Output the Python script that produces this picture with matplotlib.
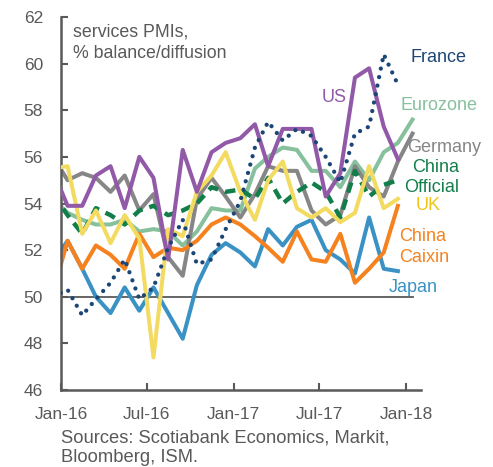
import pandas as pd
import matplotlib
matplotlib.use("Agg")
from matplotlib import pyplot as plt
import matplotlib.dates as mdates

plt.rcParams['font.family'] = ['Liberation Sans', 'DejaVu Sans']

# monthly services PMIs, Dec-15 .. Dec-17 (Eurozone/Germany to Jan-18)
months = pd.date_range("2015-12-01", periods=26, freq="MS") + pd.Timedelta(days=14)

us = [55.4, 53.9, 53.9, 55.2, 55.6, 53.8, 56.0, 55.1, 51.6, 56.3, 54.5, 56.2, 56.6,
      56.8, 57.4, 55.6, 57.2, 57.2, 57.2, 54.3, 55.3, 59.4, 59.8, 57.3, 55.9]
france = [50.0, 50.3, 49.2, 49.9, 50.6, 51.6, 49.9, 50.4, 52.1, 53.3, 51.4, 51.6, 52.9,
          54.1, 56.4, 57.5, 56.7, 57.2, 56.9, 56.0, 54.9, 57.0, 57.3, 60.4, 59.1]
eurozone = [54.2, 53.6, 53.3, 53.1, 53.1, 53.3, 52.8, 52.9, 52.8, 52.2, 52.8, 53.8, 53.7,
            53.7, 55.5, 56.0, 56.4, 56.3, 55.4, 55.4, 54.7, 55.8, 55.0, 56.2, 56.6, 57.6]
germany = [56.0, 55.0, 55.3, 55.1, 54.5, 55.2, 53.7, 54.4, 51.7, 50.9, 54.2, 55.1, 54.3,
           53.4, 54.4, 55.6, 55.4, 55.4, 53.7, 53.1, 53.5, 55.6, 54.7, 54.3, 55.8, 57.0]
china_official = [54.4, 53.5, 52.7, 53.8, 53.5, 53.1, 53.7, 53.9, 53.5, 53.7, 54.0, 54.7, 54.5,
                  54.6, 54.2, 55.1, 54.0, 54.5, 54.9, 54.5, 53.4, 55.4, 54.3, 54.8, 55.0]
uk = [55.5, 55.6, 52.7, 53.7, 52.3, 53.5, 52.5, 47.4, 52.9, 52.6, 54.5, 55.2, 56.2,
      54.5, 53.3, 55.0, 55.8, 53.8, 53.4, 53.8, 53.2, 53.6, 55.6, 53.8, 54.2]
china_caixin = [50.2, 52.4, 51.2, 52.2, 51.8, 51.2, 52.7, 51.7, 52.1, 52.0, 52.4, 53.1, 53.4,
                53.1, 52.6, 52.1, 51.5, 52.8, 51.6, 51.5, 52.7, 50.6, 51.2, 51.9, 53.9]
japan = [51.5, 52.4, 51.2, 50.0, 49.3, 50.4, 49.4, 50.4, 49.3, 48.2, 50.5, 51.8, 52.3,
         51.9, 51.3, 52.9, 52.2, 53.0, 53.3, 52.0, 51.6, 51.0, 53.4, 51.2, 51.1]
threshold = [50] * 26

tick_dates = ["2016-01-01", "2016-07-01", "2017-01-01", "2017-07-01", "2018-01-01"]
y_ticks = [46, 48, 50, 52, 54, 56, 58, 60, 62]

grey = "#595959"
c_us = "#9159a8"
c_fr = "#1c4675"
c_ez = "#86c09c"
c_de = "#868686"
c_cn = "#127f4b"
c_uk = "#f2db60"
c_cx = "#f5821f"
c_jp = "#3a92c4"

fig = plt.figure(figsize=(4.93, 4.67), dpi=100)
ax = fig.add_axes([61 / 493, 77 / 467, 360 / 493, 373 / 467])

lw = 2.9
d = months[:25]
ax.plot(months, threshold, color=grey, lw=1.3, zorder=1)
ax.plot(months, eurozone, color=c_ez, lw=lw, zorder=2)
ax.plot(months, germany, color=c_de, lw=lw, zorder=2)
ax.plot(d, japan, color=c_jp, lw=lw, zorder=2)
ax.plot(d, china_caixin, color=c_cx, lw=lw, zorder=2)
ax.plot(d, china_official, color=c_cn, lw=3.2, ls=(0, (2.4, 1.6)), zorder=3)
ax.plot(d, uk, color=c_uk, lw=lw, zorder=3)
ax.plot(d, us, color=c_us, lw=lw, zorder=3)
ax.plot(d, france, color=c_fr, lw=3.1, ls=(0, (0.01, 2.0)), dash_capstyle="round",
        solid_capstyle="round", zorder=4)

ax.set_xlim(pd.Timestamp("2016-01-01"), pd.Timestamp("2018-02-02"))
ax.set_ylim(46, 62)
ax.set_yticks(y_ticks)
ax.set_xticks(pd.to_datetime(tick_dates))
ax.xaxis.set_major_formatter(mdates.DateFormatter("%b-%y"))

for s in ["top", "right"]:
    ax.spines[s].set_visible(False)
for s in ["left", "bottom"]:
    ax.spines[s].set_color(grey)
    ax.spines[s].set_linewidth(1.8)
ax.tick_params(direction="in", length=5, width=1.5, color=grey, labelcolor=grey,
               labelsize=12.5)
ax.tick_params(axis="x", pad=12)
ax.tick_params(axis="y", pad=13)

H = 467
fs = 13


def lab(x, y, s, c, size=fs, **kw):
    # x, y in pixels from the top-left corner
    fig.text(x / 493, 1 - y / H, s, color=c, fontsize=size, va="center", **kw)


lab(73, 32, "services PMIs,", grey, size=12.8)
lab(73, 53, "% balance/diffusion", grey, size=12.8)

lab(410, 58, "France", c_fr)
lab(322, 98, "US", c_us)
lab(400, 105, "Eurozone", c_ez)
lab(407, 148, "Germany", c_de)
lab(459, 167, "China", c_cn, ha="right")
lab(459, 188, "Official", c_cn, ha="right")
lab(416, 205, "UK", "#f0c419")
lab(399, 237, "China", c_cx)
lab(399, 258, "Caixin", c_cx)
lab(389, 288, "Japan", c_jp)

lab(61, 438, "Sources: Scotiabank Economics, Markit,", grey, size=13.2)
lab(61, 458, "Bloomberg, ISM.", grey, size=13.2)

fig.savefig("out.png", dpi=100)
